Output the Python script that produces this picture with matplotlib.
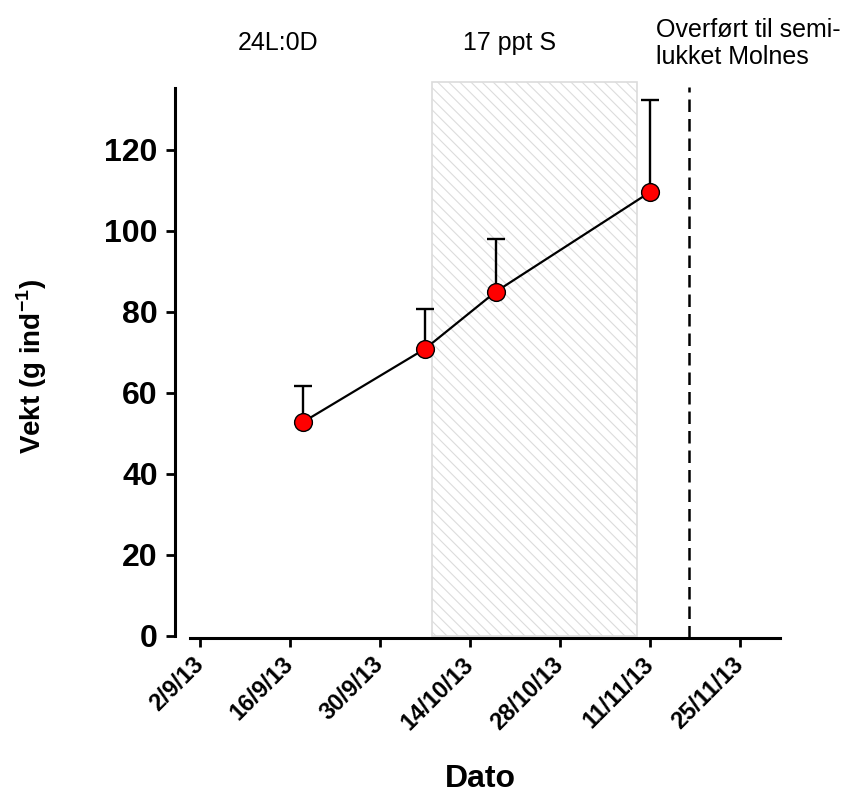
import matplotlib
matplotlib.use("Agg")
import matplotlib.pyplot as plt
import matplotlib.dates as mdates
from datetime import datetime, timedelta

plt.rcParams['font.family'] = ['Liberation Sans', 'DejaVu Sans']
plt.rcParams['mathtext.fontset'] = 'custom'
plt.rcParams['mathtext.rm'] = 'Liberation Sans'
plt.rcParams['mathtext.bf'] = 'Liberation Sans:bold'
plt.rcParams['hatch.color'] = '#d2d2d2'
plt.rcParams['hatch.linewidth'] = 0.8

# Sampling dates and mean weight with upper standard deviation
sample_dates = ["2013-09-18", "2013-10-07", "2013-10-18", "2013-11-11"]
weight_mean = [52.8, 70.9, 85.0, 109.6]
weight_sd = [8.9, 9.9, 13.0, 22.7]

tick_dates = ["2013-09-02", "2013-09-16", "2013-09-30", "2013-10-14",
              "2013-10-28", "2013-11-11", "2013-11-25"]
tick_labels = ["2/9/13", "16/9/13", "30/9/13", "14/10/13",
               "28/10/13", "11/11/13", "25/11/13"]
y_ticks = [0, 20, 40, 60, 80, 100, 120]

salinity_period = ["2013-10-08", "2013-11-09"]
transfer_date = "2013-11-17"

def d(s):
    return datetime.strptime(s, "%Y-%m-%d")

x = [d(s) for s in sample_dates]

W, H = 850, 794
fig = plt.figure(figsize=(W / 100, H / 100), dpi=100)
ax = fig.add_axes([175 / W, (H - 638) / H, 605 / W, 561 / H])

# hatched low-salinity period
s0, s1 = mdates.date2num(d(salinity_period[0])), mdates.date2num(d(salinity_period[1]))
ax.add_patch(plt.Rectangle((s0, 0), s1 - s0, 136.8, facecolor='white',
                           edgecolor='#dcdcdc', hatch='\\\\\\', lw=1.2, zorder=0))

ax.axvline(d(transfer_date), ymin=0, ymax=(135.5 + 0.5) / 138.5, color='black',
           lw=1.8, dashes=[5.0, 2.8], zorder=1)

ax.errorbar(x, weight_mean, yerr=[[0] * len(weight_sd), weight_sd], fmt='none',
            ecolor='black', elinewidth=1.7, capsize=6.3, capthick=1.7, zorder=2)
ax.plot(x, weight_mean, '-', color='black', lw=1.6, zorder=3)
ax.plot(x, weight_mean, 'o', ms=12.8, mfc='#ff0000', mec='black', mew=1.0, zorder=4)

x0 = d(tick_dates[0])
ax.set_xlim(mdates.date2num(x0 - timedelta(days=3.9)), mdates.date2num(x0 + timedelta(days=90.2)))
ax.set_ylim(-0.5, 138)

for side in ['top', 'right']:
    ax.spines[side].set_visible(False)
ax.spines['left'].set_bounds(0, 135.3)
ax.spines['bottom'].set_bounds(mdates.date2num(x0 - timedelta(days=1.6)),
                               mdates.date2num(x0 + timedelta(days=90.2)))
for side in ['left', 'bottom']:
    ax.spines[side].set_linewidth(2.2)

ax.set_xticks([d(t) for t in tick_dates])
ax.set_xticklabels(tick_labels, rotation=45, ha='right', va='center',
                   rotation_mode='anchor', fontsize=17, fontweight='bold')
ax.set_yticks(y_ticks)
ax.set_yticklabels([str(v) for v in y_ticks], fontsize=23, fontweight='bold')
ax.tick_params(axis='both', direction='out', length=6.5, width=2.0)
ax.tick_params(axis='x', pad=10)
ax.tick_params(axis='y', pad=6)

fig.text(480 / W, 1 - 779 / H, 'Dato', ha='center', va='center',
         fontsize=23, fontweight='bold')
fig.text(32 / W, 1 - 367 / H, r'Vekt (g ind$^{\mathbf{-1}}$)', ha='center', va='center',
         rotation=90, fontsize=20, fontweight='bold')

fig.text(278 / W, 1 - 43 / H, '24L:0D', ha='center', va='center', fontsize=18)
fig.text(510 / W, 1 - 43 / H, '17 ppt S', ha='center', va='center', fontsize=18)
fig.text(656 / W, 1 - 43.5 / H, 'Overført til semi-\nlukket Molnes', ha='left',
         va='center', fontsize=18, linespacing=1.14)

fig.savefig('out.png', dpi=100)
